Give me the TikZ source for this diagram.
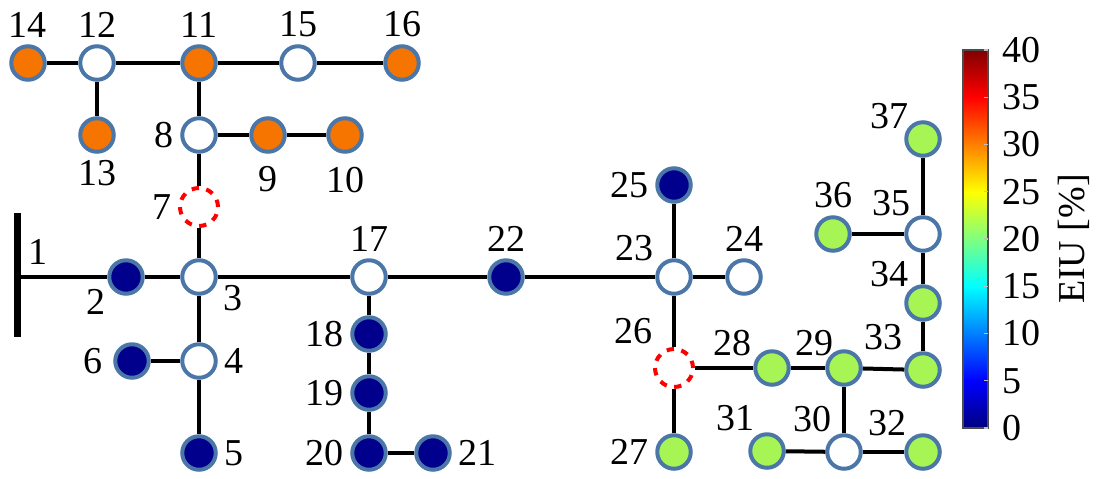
\documentclass[tikz,border=0pt]{standalone}
\usepackage{fontspec}
\setmainfont{LiberationSerif}[Extension=.ttf, UprightFont=*-Regular, BoldFont=*-Bold]
\usetikzlibrary{positioning}

\definecolor{rim}{RGB}{74,118,168}
\definecolor{eiuorange}{RGB}{245,117,0}
\definecolor{eiunavy}{RGB}{0,0,140}
\definecolor{eiugreen}{RGB}{166,245,84}
\definecolor{jetlo}{RGB}{0,0,128}
\definecolor{jetb}{RGB}{0,0,255}
\definecolor{jetc}{RGB}{0,255,255}
\definecolor{jety}{RGB}{255,255,0}
\definecolor{jetr}{RGB}{255,0,0}
\definecolor{jethi}{RGB}{128,0,0}
\pgfdeclareverticalshading{jet}{100bp}{color(0bp)=(jetlo); color(25bp)=(jetlo); color(31.25bp)=(jetb); color(43.75bp)=(jetc); color(56.25bp)=(jety); color(68.75bp)=(jetr); color(75bp)=(jethi); color(100bp)=(jethi)}

\begin{document}
\begin{tikzpicture}[x=0.5pt, y=-0.5pt, font=\rmfamily\fontsize{19pt}{22pt}\selectfont,
		c/.style={circle, draw=rim, line width=2pt, minimum size=16.75pt, inner sep=0pt, fill=white},
		o/.style={fill=eiuorange}, n/.style={fill=eiunavy}, g/.style={fill=eiugreen},
		d/.style={circle, draw=red, line width=2pt, dash pattern=on 3.7pt off 3.76pt, minimum size=19pt, inner sep=0pt},
		lab/.style={inner sep=3.3pt},
		s/.style={line width=2pt}]
		\useasboundingbox (0,0) rectangle (1096,478);

		% top feeder
		\node[c, o] (b14) at (28,63) {};
		\node[lab, above=0pt of b14] (b14_label) {14};
		\node[c] (b12) at (97,63) {};
		\node[lab, above=0pt of b12] (b12_label) {12};
		\node[c, o] (b11) at (199,63) {};
		\node[lab, above=0pt of b11] (b11_label) {11};
		\node[c] (b15) at (298,63) {};
		\node[lab, above=0pt of b15] (b15_label) {15};
		\node[c, o] (b16) at (402,63) {};
		\node[lab, above=0pt of b16] (b16_label) {16};
		\node[c, o] (b13) at (97,135) {};
		\node[lab, below=0pt of b13] (b13_label) {13};
		\node[c] (b8) at (199,135) {};
		\node[lab, left=0pt of b8] (b8_label) {8};
		\node[c, o] (b9) at (268,135) {};
		\node[lab, below=3pt of b9] (b9_label) {9};
		\node[c, o] (b10) at (345,135) {};
		\node[lab, below=3pt of b10] (b10_label) {10};
		\node[d] (b7) at (199,207) {};
		\node[lab, left=0pt of b7] (b7_label) {7};

		% main feeder
		\coordinate (b1) at (17,277);
		\coordinate (bus_top) at (17,213);
		\coordinate (bus_bot) at (17,337);
		\node[lab, above right=3pt and 2pt of b1] (b1_label) {1};
		\node[c, n] (b2) at (126,277) {};
		\node[lab, below left=-4pt and 0pt of b2] (b2_label) {2};
		\node[c] (b3) at (199,277) {};
		\node[lab, below right=-6pt and 2pt of b3] (b3_label) {3};
		\node[c] (b4) at (199,361) {};
		\node[lab, right=0pt of b4] (b4_label) {4};
		\node[c, n] (b6) at (132,361) {};
		\node[lab, left=2pt of b6] (b6_label) {6};
		\node[c, n] (b5) at (199,453) {};
		\node[lab, right=0pt of b5] (b5_label) {5};
		\node[c] (b17) at (369,277) {};
		\node[lab, above=0pt of b17] (b17_label) {17};
		\node[c, n] (b18) at (369,334) {};
		\node[lab, left=0pt of b18] (b18_label) {18};
		\node[c, n] (b19) at (369,393) {};
		\node[lab, left=0pt of b19] (b19_label) {19};
		\node[c, n] (b20) at (369,453) {};
		\node[lab, left=0pt of b20] (b20_label) {20};
		\node[c, n] (b21) at (433,453) {};
		\node[lab, right=0pt of b21] (b21_label) {21};
		\node[c, n] (b22) at (506,277) {};
		\node[lab, above=0pt of b22] (b22_label) {22};
		\node[c] (b23) at (674,277) {};
		\node[lab, above left=-2pt and 0pt of b23] (b23_label) {23};
		\node[c] (b24) at (744,277) {};
		\node[lab, above=0pt of b24] (b24_label) {24};
		\node[c, n] (b25) at (674,185) {};
		\node[lab, left=0pt of b25] (b25_label) {25};

		% lower right feeder
		\node[d] (b26) at (674,368) {};
		\node[lab, above left=1pt and 0pt of b26] (b26_label) {26};
		\node[c, g] (b27) at (674,452) {};
		\node[lab, left=0pt of b27] (b27_label) {27};
		\node[c, g] (b28) at (772,368) {};
		\node[lab, above left=-4pt and 0pt of b28] (b28_label) {28};
		\node[c, g] (b29) at (844,368) {};
		\node[lab, above left=-4pt and -5pt of b29] (b29_label) {29};
		\node[c] (b30) at (844,452) {};
		\node[lab, above left=0pt and -4pt of b30] (b30_label) {30};
		\node[c, g] (b31) at (767,451) {};
		\node[lab, above left=0pt and -4pt of b31] (b31_label) {31};
		\node[c, g] (b32) at (923,452) {};
		\node[lab, above left=-2pt and -2pt of b32] (b32_label) {32};
		\node[c, g] (b33) at (923,370) {};
		\node[lab, above left=0pt and 0pt of b33] (b33_label) {33};
		\node[c, g] (b34) at (923,303) {};
		\node[lab, above left=-2pt and -3pt of b34] (b34_label) {34};
		\node[c] (b35) at (923,234) {};
		\node[lab, above left=-1pt and -4pt of b35] (b35_label) {35};
		\node[c, g] (b36) at (833,234) {};
		\node[lab, above=0pt of b36] (b36_label) {36};
		\node[c, g] (b37) at (923,139) {};
		\node[lab, above left=-5pt and -3pt of b37] (b37_label) {37};

		\draw[line width=3.5pt] (bus_top) -- (bus_bot);
		\path[s] (b14) edge (b12) (b12) edge (b11) (b11) edge (b15) (b15) edge (b16);
		\path[s] (b12) edge (b13) (b11) edge (b8) (b8) edge (b9) (b9) edge (b10);
		\path[s] (b8) edge (b7) (b7) edge (b3);
		\path[s] (b1) edge (b2) (b2) edge (b3) (b3) edge (b17) (b17) edge (b22) (b22) edge (b23);
		\path[s] (b3) edge (b4) (b4) edge (b6) (b4) edge (b5);
		\path[s] (b17) edge (b18) (b18) edge (b19) (b19) edge (b20) (b20) edge (b21);
		\path[s] (b23) edge (b24) (b23) edge (b25) (b23) edge (b26);
		\path[s] (b26) edge (b27) (b26) edge (b28) (b28) edge (b29) (b29) edge (b33);
		\path[s] (b29) edge (b30) (b30) edge (b31) (b30) edge (b32);
		\path[s] (b33) edge (b34) (b34) edge (b35) (b35) edge (b37) (b35) edge (b36);

		% colour bar
		\shade[shading=jet, draw=black!70, line width=0.6pt] (963,50) rectangle (988,428);
		\foreach \v in {0,5,...,40} {
			\draw[black!25, line width=0.6pt] (988,{428-9.45*\v}) -- ++(-4,0);
			\node[anchor=west, inner sep=0pt] (t\v) at (1002,{428-9.45*\v}) {\v};
		}
		\node[rotate=90] (eiu) at (1074,239) {EIU [\%]};
	\end{tikzpicture}
\end{document}
